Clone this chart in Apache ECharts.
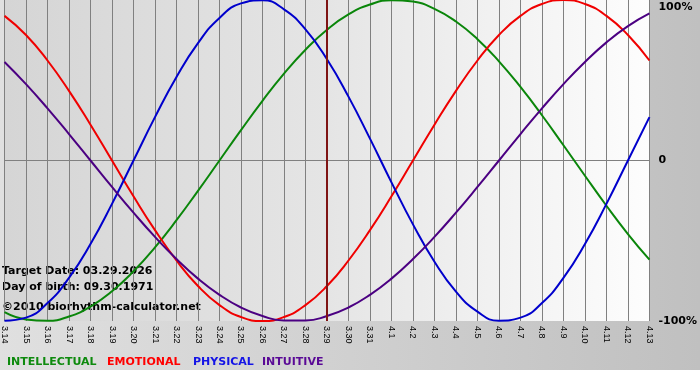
<!DOCTYPE html>
<html>
<head>
<meta charset="utf-8">
<script src="https://cdn.jsdelivr.net/npm/echarts@6/dist/echarts.min.js"></script>
<style>
html,body{margin:0;padding:0;background:#fff;}
#chart{width:700px;height:380px;}
</style>
</head>
<body>
<div id="chart"></div>
<script>
const categories = ['3.14','3.15','3.16','3.17','3.18','3.19','3.20','3.21','3.22','3.23','3.24','3.25','3.26','3.27','3.28','3.29','3.30','3.31','4.1','4.2','4.3','4.4','4.5','4.6','4.7','4.8','4.9','4.10','4.11','4.12','4.13'];
const intellectual = [-94.5,-99.0,-99.9,-97.2,-91.0,-81.5,-69.0,-54.1,-37.2,-18.9,0,18.9,37.2,54.1,69.0,81.5,91.0,97.2,99.9,99.0,94.5,86.6,75.6,61.8,45.8,28.2,9.5,-9.5,-28.2,-45.8,-61.8];
const emotional = [90.1,78.2,62.3,43.4,22.3,0,-22.3,-43.4,-62.3,-78.2,-90.1,-97.5,-100,-97.5,-90.1,-78.2,-62.3,-43.4,-22.3,0,22.3,43.4,62.3,78.2,90.1,97.5,100,97.5,90.1,78.2,62.3];
const physical = [-99.8,-97.9,-88.8,-73.1,-52.0,-27.0,0,27.0,52.0,73.1,88.8,97.9,99.8,94.2,81.7,63.1,39.8,13.6,-13.6,-39.8,-63.1,-81.7,-94.2,-99.8,-97.9,-88.8,-73.1,-52.0,-27.0,0,27.0];
const intuitive = [61.4,47.6,32.5,16.5,0,-16.5,-32.5,-47.6,-61.4,-73.6,-83.7,-91.6,-96.9,-99.7,-99.7,-96.9,-91.6,-83.7,-73.6,-61.4,-47.6,-32.5,-16.5,0,16.5,32.5,47.6,61.4,73.6,83.7,91.6];
const yTickLabels = {'-100':'-100%','0':'0','100':'100%'};
const targetDate = '3.29';
const infoLines = ['Target Date: 03.29.2026','Day of birth: 09.30.1971','\u00a92010 biorhythm-calculator.net'];
const legendNames = ['INTELLECTUAL','EMOTIONAL','PHYSICAL','INTUITIVE'];
const colors = {INTELLECTUAL:'#0a860a', EMOTIONAL:'#f00000', PHYSICAL:'#0000cc', INTUITIVE:'#4b0082'};
const legendText = {INTELLECTUAL:'#0e8a0e', EMOTIONAL:'#ff0000', PHYSICAL:'#1414e6', INTUITIVE:'#5a0a96'};

const chart = echarts.init(document.getElementById('chart'), null, {renderer:'canvas'});
const FONT = 'DejaVu Sans';
function lineSeries(name, data, extra){
  return Object.assign({
    name: name, type:'line', data: data, smooth: true, showSymbol:false, symbol:'none',
    lineStyle:{color: colors[name], width:2}, itemStyle:{color: colors[name]}, silent:true
  }, extra || {});
}
const legendX = [7,107,193,262];
const infoY = [271.5,287,307];
const option = {
  animation:false,
  backgroundColor: new echarts.graphic.LinearGradient(0,0,1,0,[{offset:0,color:'#e0e0e0'},{offset:1,color:'#c0c0c0'}]),
  grid:{left:0, top:0, right:50, bottom:59, show:true, borderWidth:0,
    backgroundColor: new echarts.graphic.LinearGradient(0,0,1,0,[{offset:0,color:'#d5d5d5'},{offset:0.5,color:'#e5e5e5'},{offset:1,color:'#fdfdfd'}])},
  xAxis:{type:'category', data:categories, boundaryGap:false,
    axisLine:{show:true, lineStyle:{color:'#808080', width:1}},
    axisTick:{show:true, length:3, interval:0, lineStyle:{color:'#808080'}},
    axisLabel:{interval:0, rotate:-90, margin:5, color:'#000', fontFamily:'Liberation Sans', fontSize:9},
    splitLine:{show:true, interval:0, lineStyle:{color:'#808080', width:1}}
  },
  yAxis:{type:'value', position:'right', min:-100, max:100, interval:100,
    axisLine:{show:false}, axisTick:{show:false},
    axisLabel:{margin:9, color:'#000', fontFamily:FONT, fontWeight:'bold', fontSize:11,
      formatter:function(v){ const s = yTickLabels[String(v)]; return v===100 ? '{t|'+s+'}' : s; },
      rich:{t:{padding:[14,0,0,0], fontFamily:FONT, fontWeight:'bold', fontSize:11, color:'#000'}}},
    splitLine:{show:true, lineStyle:{color:['rgba(0,0,0,0)','#808080','rgba(0,0,0,0)'], width:1}}
  },
  series:[
    lineSeries('INTELLECTUAL', intellectual),
    lineSeries('EMOTIONAL', emotional),
    lineSeries('PHYSICAL', physical),
    lineSeries('INTUITIVE', intuitive, {markLine:{silent:true, symbol:'none', label:{show:false},
      lineStyle:{color:'#7f1414', width:2, type:'solid'}, data:[{xAxis: targetDate}]}})
  ],
  graphic: [].concat(
    [{type:'rect', left:0, top:370, shape:{width:700, height:10}, style:{fill:'#fff'}, silent:true}],
    infoLines.map(function(t,i){ return {type:'text', x:2, y:infoY[i], silent:true,
      style:{text:t, fill:'#000', font:'bold 11px "DejaVu Sans"', verticalAlign:'middle', align:'left'}}; }),
    legendNames.map(function(n,i){ return {type:'text', x:legendX[i], y:362, silent:true,
      style:{text:n, fill:legendText[n], font:'bold 11px "DejaVu Sans"', verticalAlign:'middle', align:'left'}}; })
  )
};
chart.setOption(option);
</script>
</body>
</html>
